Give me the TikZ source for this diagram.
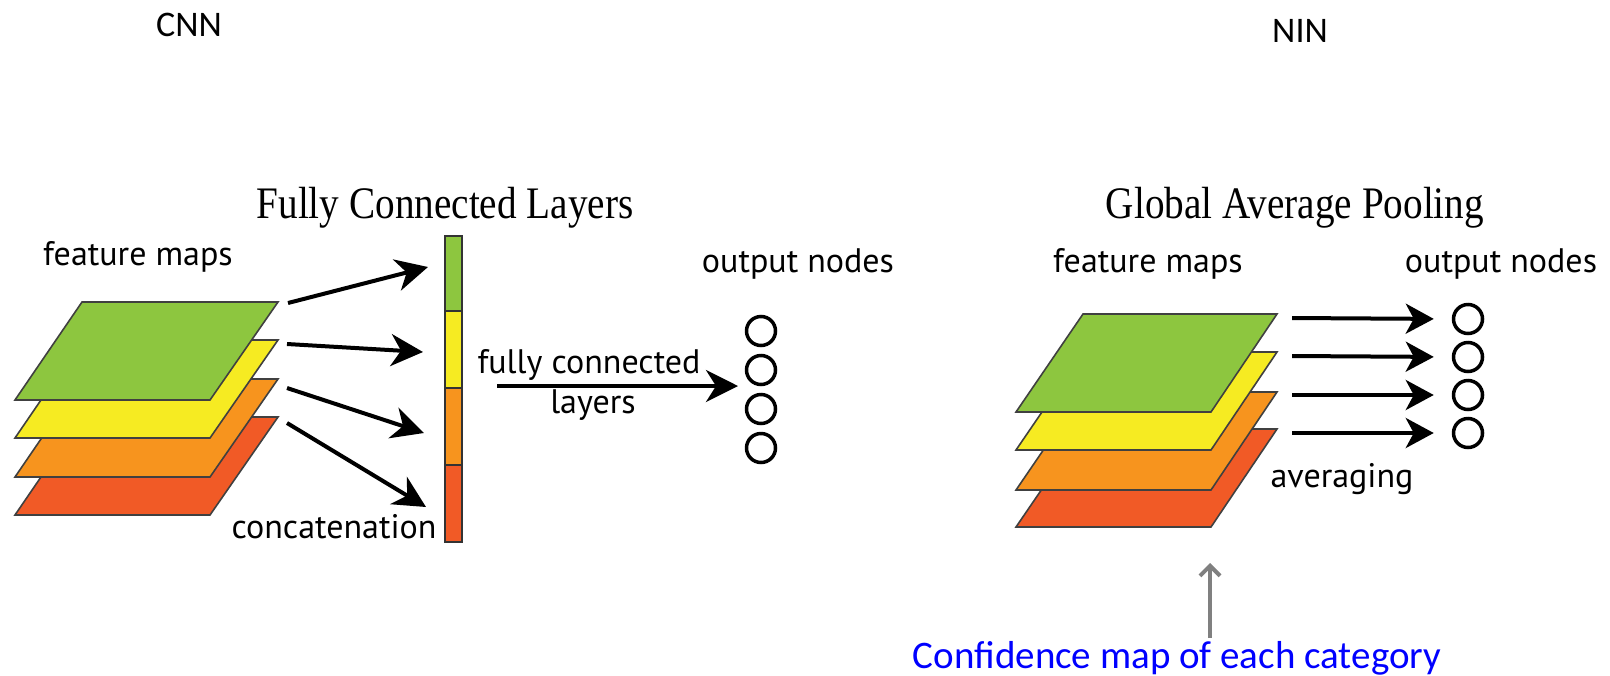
\documentclass[tikz,border=0pt]{standalone}
\usepackage{fontspec}
\setmainfont{Liberation Serif}
\newfontfamily\labelfont{PT Sans}
\newfontfamily\slidefont{Carlito}
\usetikzlibrary{arrows.meta}

\definecolor{mapgreen}{RGB}{141,198,63}
\definecolor{mapyellow}{RGB}{246,235,34}
\definecolor{maporange}{RGB}{247,148,30}
\definecolor{mapred}{RGB}{241,90,38}
\definecolor{hintgray}{RGB}{128,128,128}

\begin{document}
\begin{tikzpicture}[x=0.5pt,y=-0.5pt,
  sheet/.style={draw=black!75,line width=0.8pt,line join=miter},
  barcell/.style={draw=black!80,line width=0.8pt},
  biglabel/.style={font=\labelfont\fontsize{17}{20}\selectfont,anchor=base,inner sep=0pt},
  title/.style={font=\fontsize{19.6}{24}\selectfont,anchor=base,inner sep=0pt},
  slide/.style={font=\slidefont\fontsize{18}{22}\selectfont,anchor=base,inner sep=0pt},
  outnode/.style={circle,draw=black,line width=1.75pt,minimum size=14.5pt,inner sep=0pt},
  flow/.style={line width=2pt,-{Stealth[length=16pt,width=16pt,inset=5pt]}},
  avgflow/.style={line width=2pt,-{Stealth[length=14pt,width=15pt,inset=4pt]}},
  hint/.style={draw=hintgray,line width=2pt,-{Straight Barb[length=5pt,width=10pt,line width=2pt]}}
]
\useasboundingbox (0,0) rectangle (1610,675);

% slide headings
\node[slide] (cnn) at (189,36) {CNN};
\node[slide] (nin) at (1300,42) {NIN};

% ---------------- CNN: fully connected layers ----------------
\node[title] (fctitle) at (445,218) {\scalebox{1}[1.15]{Fully Connected Layers}};

% stacked feature maps, bottom sheet first
\foreach \dy/\col in {115/mapred,77/maporange,38/mapyellow,0/mapgreen}{
  \filldraw[sheet,fill=\col] (82,302+\dy) -- (278,302+\dy) -- (210,400+\dy) -- (15,400+\dy) -- cycle;
}
\node[biglabel] (fmapL) at (138,265) {feature maps};

% concatenated vector
\draw[barcell,fill=mapgreen]  (445,236) rectangle (462,311);
\draw[barcell,fill=mapyellow] (445,311) rectangle (462,388);
\draw[barcell,fill=maporange] (445,388) rectangle (462,465);
\draw[barcell,fill=mapred]    (445,465) rectangle (462,542);
\node[biglabel] (concat) at (334,538) {concatenation};

% arrows from the maps to the vector
\coordinate (s1) at (288,303); \coordinate (t1) at (428,267);
\coordinate (s2) at (287,344); \coordinate (t2) at (423,352);
\coordinate (s3) at (287,388); \coordinate (t3) at (424,433);
\coordinate (s4) at (287,423); \coordinate (t4) at (426,507);
\foreach \i in {1,...,4}{ \draw[flow] (s\i) -- (t\i); }

% output nodes
\node[biglabel] (outL) at (798,272) {output nodes};
\node[outnode] (oL1) at (761,331) {};
\node[outnode] (oL2) at (761,370) {};
\node[outnode] (oL3) at (761,409) {};
\node[outnode] (oL4) at (761,448) {};

% fully connected mapping
\coordinate (fcs) at (497,386);
\coordinate (fce) at (738,386);
\draw[flow] (fcs) -- (fce);
\node[biglabel] (fc1) at (589,373) {fully connected};
\node[biglabel] (fc2) at (593,413) {layers};

% ---------------- NIN: global average pooling ----------------
\node[title] (gaptitle) at (1295,218) {\scalebox{1}[1.15]{Global Average Pooling}};

\foreach \dy/\col in {115/mapred,78/maporange,38/mapyellow,0/mapgreen}{
  \filldraw[sheet,fill=\col] (1083,314+\dy) -- (1277,314+\dy) -- (1211,412+\dy) -- (1016,412+\dy) -- cycle;
}
\node[biglabel] (fmapR) at (1148,272) {feature maps};
\node[biglabel] (outR) at (1501,272) {output nodes};
\node[biglabel] (avg) at (1342,487) {averaging};

\node[outnode] (oR1) at (1468,319) {};
\node[outnode] (oR2) at (1468,357) {};
\node[outnode] (oR3) at (1468,395) {};
\node[outnode] (oR4) at (1468,433) {};

\foreach \i/\y in {1/318,2/356,3/395,4/433}{
  \coordinate (a\i) at (1292,\y);
  \draw[avgflow,shorten >=9pt] (a\i) -- (oR\i.west);
}

% annotation
\node[slide,font=\slidefont\fontsize{19.5}{23}\selectfont,text=blue] (conf) at (1177,668) {Confidence map of each category};
\coordinate (hs) at (1210,638);
\coordinate (he) at (1210,563);
\draw[hint] (hs) -- (he);

\end{tikzpicture}
\end{document}
